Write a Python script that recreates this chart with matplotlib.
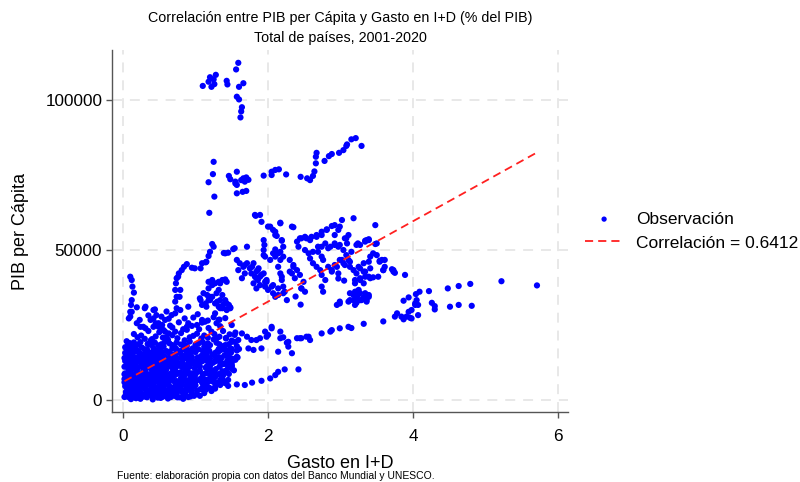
import numpy as np
import matplotlib.pyplot as plt

plt.rcParams['font.family'] = ['Liberation Sans', 'DejaVu Sans']

# grupo de paises muy ricos (arriba)
gasto_top = [1.59, 1.56, 1.28, 1.20, 1.25, 1.18, 1.26, 1.10, 1.22, 1.43, 1.44, 1.66, 1.60, 1.57, 1.60, 1.64, 1.63, 1.62]
pib_top = [112.4, 110.2, 108.4, 107.6, 106.9, 106.1, 105.3, 104.7, 104.4, 106.4, 105.2, 105.6, 104.4, 101.1, 100.2, 97.6, 96.2, 94.2]

# banda 62k-87k
gasto_b80 = [1.25, 1.24, 1.18, 1.26, 1.19, 1.46, 1.48, 1.57, 1.55, 1.63, 1.66, 1.70, 1.73, 1.68, 1.57, 1.65, 1.70,
             1.94, 2.05, 2.10, 2.15, 2.05, 2.25, 2.45, 2.54, 2.58, 2.62, 2.64, 2.66, 2.66, 2.67, 2.78, 2.84, 2.88,
             2.98, 3.04, 3.08, 3.09, 3.15, 3.21, 3.29, 1.57, 1.55]
pib_b80 = [79.4, 75.3, 72.6, 67.8, 62.4, 74.7, 73.6, 76.1, 72.2, 73.3, 73.9, 74.2, 73.4, 72.8, 68.9, 69.4, 69.7,
           74.8, 76.1, 76.7, 76.9, 75.0, 75.2, 74.4, 73.9, 73.3, 74.7, 76.2, 78.9, 81.1, 82.4, 79.7, 81.3, 82.0,
           82.4, 83.3, 84.7, 85.2, 86.9, 87.3, 84.7, 71.7, 72.8]

# zona media izquierda (22k-52k)
gasto_med = [0.10, 0.12, 0.13, 0.15, 0.12, 0.11, 0.10, 0.08, 0.19, 0.31, 0.44,
             0.74, 0.72, 0.74, 0.72, 0.73, 0.74, 0.77, 0.81, 0.84, 0.88, 0.95, 1.07, 1.09, 1.14, 1.20, 1.23, 1.18,
             1.39, 1.45, 1.25, 1.15, 0.99, 0.76, 0.79, 0.78, 0.79,
             0.19, 0.24, 0.31, 0.38, 0.42, 0.45, 0.49, 0.54, 0.56, 0.58, 0.63, 0.68,
             0.88, 0.95, 1.02, 1.09, 1.13,
             1.07, 1.11, 1.18, 1.23, 1.27, 1.32, 1.37, 1.41,
             1.16, 1.20, 1.27, 1.32, 1.37, 1.43, 1.17, 1.25, 1.33, 1.41,
             1.06, 1.34, 1.43, 1.29, 1.34, 1.38, 1.43, 1.48, 1.27, 1.32, 1.29, 1.20, 1.09, 1.15,
             0.30, 0.42, 0.46, 0.53, 0.67, 0.72, 0.49, 0.53, 0.58, 0.63, 0.23, 0.28, 0.42, 0.12, 0.10,
             0.90, 1.09, 0.90, 0.85,
             1.18, 1.23, 1.32, 1.37, 1.41, 1.46, 1.30, 1.23, 1.18, 1.14, 1.34, 1.43, 1.48,
             0.25, 0.35, 0.15, 0.65, 0.77, 0.83, 0.97, 1.03, 0.60, 0.35]
pib_med = [41.1, 40.0, 37.8, 35.8, 33.3, 31.7, 29.4, 27.2, 30.9, 31.1, 30.2,
           30.6, 32.8, 34.4, 36.7, 38.9, 40.6, 42.2, 43.3, 44.4, 45.3, 44.1, 43.9, 45.6, 45.9, 49.4, 52.0, 48.0,
           49.0, 49.1, 51.1, 46.1, 43.9, 41.1, 36.7, 34.4, 30.0,
           25.6, 24.4, 23.9, 26.7, 27.2, 25.6, 24.4, 25.0, 23.3, 26.7, 27.1, 24.2,
           24.4, 24.7, 25.0, 25.8, 26.1,
           33.3, 35.6, 37.2, 38.3, 38.9, 39.4, 40.0, 40.2,
           35.0, 33.3, 32.2, 31.1, 30.6, 30.2, 26.5, 27.6, 26.8, 27.3,
           33.9, 38.9, 39.4, 35.6, 33.3, 31.7, 32.2, 30.6, 28.9, 26.7, 25.6, 34.4, 31.7, 31.1,
           30.6, 30.0, 28.3, 27.8, 28.3, 28.9, 25.6, 23.9, 22.8, 22.2, 26.7, 24.4, 24.4, 29.4, 27.8,
           25.6, 26.7, 31.1, 27.2,
           39.4, 40.0, 36.7, 35.0, 33.3, 31.7, 32.8, 34.4, 33.3, 32.2, 30.6, 30.0, 30.9,
           21.5, 23.0, 22.0, 24.8, 25.9, 23.6, 27.5, 28.6, 29.5, 28.2]

# nube central (1.4-3.9, 30k-62k)
gasto_cen = [1.82, 1.89, 1.91, 2.00, 2.07, 2.10, 2.19, 2.17, 2.33, 1.83, 2.03, 2.17, 2.35, 2.10, 2.12, 2.19,
             1.94, 1.95, 1.71, 1.52, 1.41, 2.10, 2.07, 2.21, 1.94, 1.94, 1.54,
             2.40, 2.46, 2.53, 2.60, 2.67, 2.74, 2.81, 2.88, 2.92, 2.99,
             2.42, 2.51, 2.56, 2.62, 2.69, 2.79, 2.83, 2.92, 2.99, 3.04,
             1.57, 1.61, 1.66, 1.59, 1.68, 1.75, 1.77, 1.82, 1.86, 1.89, 1.96, 2.00, 1.68, 1.64, 1.86, 1.91, 1.96, 1.80, 1.84,
             2.14, 2.17, 2.14, 2.17, 2.19, 2.21, 2.23, 2.14, 2.10,
             2.30, 2.35, 2.40, 2.44, 2.49, 2.46, 2.51, 2.33, 2.37,
             2.58, 2.62, 2.67, 2.72, 2.74, 2.79, 2.88, 2.92, 2.97, 2.74, 2.76, 2.95, 2.99,
             3.48, 3.06, 3.11, 3.09, 3.22, 3.24, 3.34, 3.39, 3.48, 3.50, 3.54, 3.61, 3.59, 3.71, 3.75, 3.89,
             3.02, 3.06, 3.13, 3.18, 3.22, 3.27, 3.32, 3.34, 3.39, 3.41, 3.41, 3.20, 3.27,
             3.13, 3.20, 3.24, 3.18, 3.27, 3.32, 3.39, 3.11, 3.20, 2.99,
             1.71, 1.78, 1.84, 1.89, 1.98, 2.05, 2.07,
             2.44, 2.51, 2.58, 2.67, 2.74, 2.81, 2.97, 3.02, 3.18, 3.08, 2.92, 2.86, 2.92, 2.97, 2.74, 2.69, 2.74,
             2.76, 2.83, 2.88, 2.95, 3.04, 3.11, 3.13, 3.25, 3.32, 3.34, 3.39, 3.41, 3.45, 3.57, 3.73, 3.36, 3.27,
             3.15, 3.08, 2.99,
             1.80, 1.87, 1.94, 1.84, 1.98, 2.07, 2.14, 2.21, 2.26, 2.19, 2.30, 2.35, 2.03, 2.10, 1.96, 2.17, 2.21,
             3.13, 3.18, 3.22, 3.27, 3.36, 3.22, 2.97, 3.05,
             3.20, 3.27, 3.32, 3.25, 3.34, 3.39, 3.22, 3.29, 3.36, 3.45, 3.52,
             3.50, 3.39, 3.34, 3.61, 3.54, 3.59, 3.73, 2.46, 2.38, 2.45]
pib_cen = [61.7, 61.7, 59.4, 57.8, 56.7, 55.0, 53.3, 58.9, 57.8, 61.4, 57.8, 59.1, 57.6, 56.1, 54.7, 53.1,
           53.3, 51.7, 51.1, 50.3, 48.9, 50.2, 48.9, 51.1, 50.0, 48.3, 50.6,
           52.8, 53.9, 53.9, 54.4, 55.0, 56.1, 56.9, 58.0, 58.3, 57.8,
           51.1, 50.0, 48.9, 49.4, 51.1, 52.2, 50.6, 52.2, 51.7, 50.0,
           46.7, 45.6, 44.4, 43.3, 45.0, 43.9, 42.2, 41.1, 40.0, 38.3, 37.8, 36.7, 42.2, 40.6, 43.3, 41.7, 39.4, 38.9, 37.2,
           48.9, 46.7, 44.4, 42.2, 40.0, 37.8, 36.1, 35.0, 34.4,
           46.7, 45.0, 43.3, 41.7, 39.4, 37.2, 36.1, 42.2, 40.6,
           47.2, 45.6, 44.4, 43.3, 41.7, 40.0, 43.3, 45.0, 42.2, 37.8, 36.1, 31.7, 32.8,
           58.3, 53.9, 55.0, 52.2, 51.7, 52.2, 53.1, 53.6, 52.0, 48.3, 46.4, 44.4, 43.3, 43.6, 42.4, 41.7,
           46.7, 45.0, 46.1, 43.3, 42.2, 43.9, 42.8, 41.1, 46.1, 43.9, 40.6, 38.9, 40.0,
           35.6, 36.1, 35.0, 33.3, 33.3, 34.2, 34.4, 32.8, 31.7, 32.2,
           45.6, 44.4, 42.8, 41.1, 39.4, 37.8, 35.6,
           53.9, 54.4, 53.3, 54.4, 55.0, 56.7, 56.7, 60.0, 60.6, 53.9, 55.0, 51.1, 51.7, 51.1, 51.1, 49.4, 47.8,
           46.7, 44.4, 42.8, 44.4, 45.6, 46.7, 44.4, 44.4, 45.6, 42.8, 41.1, 47.8, 48.9, 46.7, 42.8, 53.3, 51.7,
           49.4, 48.3, 46.7,
           45.6, 43.9, 42.2, 40.6, 40.0, 38.3, 37.2, 35.6, 33.3, 41.1, 42.8, 44.4, 46.7, 47.8, 47.8, 49.4, 47.8,
           33.3, 35.0, 36.1, 35.6, 32.8, 32.4, 40.5, 39.8,
           40.0, 40.6, 38.9, 36.7, 35.6, 35.0, 33.9, 33.3, 33.3, 40.9, 41.1,
           52.2, 53.3, 52.8, 46.7, 46.1, 43.3, 43.3, 37.2, 34.5, 31.8]

# rama derecha (gasto alto)
gasto_der = [3.87, 3.94, 4.04, 4.09, 4.22, 4.05, 4.03, 3.98, 3.94, 3.91, 3.98, 4.07, 3.78, 3.75, 3.87,
             4.26, 4.30, 4.30, 4.48, 4.63, 4.51, 4.63, 5.22, 5.71, 4.79, 4.81,
             3.84, 3.96, 4.07, 4.03, 3.59, 3.32, 3.15]
pib_der = [33.1, 34.2, 35.3, 36.1, 36.3, 33.3, 31.7, 30.0, 29.4, 27.8, 27.2, 28.3, 28.9, 27.8, 26.9,
           32.4, 31.3, 30.2, 37.2, 38.0, 31.1, 31.7, 39.6, 38.2, 38.7, 31.4,
           27.8, 27.4, 31.7, 32.2, 26.2, 25.4, 24.0]

# banda baja 15k-25k y diagonal inferior
gasto_baj = [2.74, 2.88, 2.99, 2.40, 2.46, 2.53, 2.58, 2.17, 2.21, 2.26, 2.28, 2.14, 1.96, 2.05, 2.00, 1.89,
             1.91, 1.77, 1.80, 1.73, 1.59, 1.64, 1.54, 1.50, 1.48, 1.57, 1.41, 1.41, 1.41, 1.43,
             1.71, 1.84, 1.98, 2.05, 2.17, 2.28, 2.33, 2.44, 2.56, 2.86, 3.11,
             1.68, 1.78, 1.91, 2.03, 2.10, 2.14, 2.23, 2.42, 1.45, 1.20, 1.27, 1.34, 1.41, 1.45, 1.57]
pib_baj = [22.2, 23.3, 23.9, 20.6, 20.6, 21.1, 20.0, 22.8, 20.9, 19.1, 17.8, 16.1, 22.8, 24.4, 21.7, 20.6,
           17.2, 20.0, 16.7, 17.2, 20.0, 22.2, 21.7, 19.4, 17.2, 14.4, 18.3, 16.7, 12.2, 9.4,
           21.1, 20.0, 21.1, 23.9, 20.6, 19.4, 15.6, 20.6, 21.1, 22.8, 24.4,
           5.0, 5.8, 6.4, 7.2, 8.3, 9.4, 10.2, 10.2, 4.7, 3.9, 4.4, 5.0, 5.6, 6.7, 5.2]

# masa densa de paises de ingreso bajo/medio (filas leidas de abajo hacia arriba)
gasto_masa = [0.05, 0.09, 0.14, 0.18, 0.22, 0.27, 0.33, 0.38, 0.45, 0.52, 0.58, 0.66, 0.71, 0.78, 0.86, 0.93, 1.02, 1.12,
              0.07, 0.12, 0.20, 0.29, 0.37, 0.44, 0.55, 0.63, 0.74, 0.81, 0.95,
              0.06, 0.11, 0.16, 0.21, 0.26, 0.31, 0.36, 0.41, 0.47, 0.53, 0.61, 0.68, 0.75, 0.83, 0.91, 0.98, 1.07, 1.18, 1.27,
              0.03, 0.10, 0.18, 0.27, 0.33, 0.43, 0.50, 0.59, 0.66, 0.73, 0.87, 1.00, 1.15,
              0.04, 0.08, 0.13, 0.19, 0.24, 0.29, 0.35, 0.40, 0.46, 0.51, 0.57, 0.63, 0.70, 0.77, 0.84, 0.90, 0.97, 1.05,
              1.13, 1.21, 1.30, 1.38,
              0.07, 0.16, 0.22, 0.32, 0.38, 0.48, 0.54, 0.60, 0.67, 0.80, 0.93, 1.08, 1.27,
              0.05, 0.10, 0.15, 0.20, 0.25, 0.31, 0.37, 0.43, 0.49, 0.55, 0.62, 0.69, 0.76, 0.82, 0.89, 0.96, 1.03, 1.10,
              1.17, 1.25, 1.33, 1.42, 1.50,
              0.07, 0.12, 0.21, 0.30, 0.36, 0.47, 0.53, 0.60, 0.73, 0.85, 0.99, 1.14, 1.28, 1.45,
              0.04, 0.09, 0.14, 0.19, 0.23, 0.28, 0.34, 0.39, 0.45, 0.51, 0.58, 0.64, 0.71, 0.79, 0.86, 0.94, 1.01, 1.09,
              1.16, 1.24, 1.31, 1.39, 1.47, 1.55,
              0.07, 0.16, 0.26, 0.36, 0.48, 0.60, 0.74, 0.88, 1.05, 1.20, 1.36, 1.52,
              0.05, 0.10, 0.17, 0.22, 0.27, 0.33, 0.39, 0.44, 0.50, 0.57, 0.63, 0.70, 0.77, 0.85, 0.92, 1.00, 1.08, 1.15,
              1.23, 1.32, 1.40, 1.49, 1.57,
              0.08, 0.20, 0.30, 0.46, 0.60, 0.74, 0.90, 1.04, 1.19, 1.35, 1.50,
              0.03, 0.07, 0.12, 0.18, 0.26, 0.34, 0.42, 0.49, 0.56, 0.64, 0.72, 0.80, 0.88, 0.96, 1.04, 1.12, 1.20, 1.29,
              1.37, 1.46, 1.54,
              0.30, 0.45, 0.55, 0.68, 0.80, 0.92, 1.02, 1.12, 1.22, 1.30, 1.38, 1.47, 1.55,
              0.11, 0.24, 0.41, 0.62, 0.83,
              0.04, 0.15, 0.24, 0.40, 0.50, 0.57, 0.70, 0.87,
              0.06, 0.15, 0.22, 0.38, 0.55, 0.62, 0.81, 0.94,
              0.03, 0.13, 0.28, 0.40, 0.52, 0.65, 0.79, 0.92,
              0.06, 0.17, 0.26, 0.42, 0.55, 0.68, 0.83, 0.98,
              0.07, 0.13, 0.30, 0.47, 0.67, 0.81,
              0.05, 0.15, 0.38, 0.62, 0.85, 1.08, 1.33,
              0.04, 0.13, 0.25, 0.34, 0.49, 0.61, 0.69, 0.84, 0.98,
              0.08, 0.19, 0.29, 0.39, 0.56, 0.64, 0.79, 0.95, 1.10,
              0.06, 0.17, 0.27, 0.43, 0.53, 0.66, 0.74, 0.87, 1.01, 1.17, 1.34,
              0.04, 0.11, 0.25, 0.35, 0.45, 0.57, 0.71, 0.84, 0.99, 1.20, 1.38,
              0.08, 0.18, 0.28, 0.40, 0.52, 0.58, 0.72, 0.86, 1.06, 1.22, 1.37, 1.53,
              0.05, 0.16, 0.31, 0.48, 0.61, 0.75, 0.90, 1.04, 1.20, 1.35, 1.50,
              0.03, 0.11, 0.21, 0.32, 0.44, 0.57, 0.66, 0.82, 0.97, 1.13, 1.27, 1.44, 1.58,
              0.09, 0.21, 0.35, 0.53, 0.73, 0.95, 1.11, 1.28, 1.45,
              0.03, 0.14, 0.24, 0.41, 0.54, 0.73, 0.88, 1.12, 1.27, 1.44, 1.60,
              0.05, 0.15, 0.33, 0.52, 0.68, 0.83, 0.99, 1.16, 1.32, 1.57,
              0.10, 0.22, 0.38, 0.53, 0.68, 0.84, 1.00, 1.17, 1.33, 1.50,
              0.20, 0.40, 0.60, 0.75, 0.97, 1.17, 1.26, 1.42,
              0.50, 0.72, 0.88, 1.05, 1.18, 1.34, 1.50,
              0.02, 0.16, 0.30, 0.48, 0.55, 0.75, 0.90, 1.06,
              0.09, 0.19, 0.34, 0.44, 0.64, 0.72, 0.80, 0.94, 1.02, 1.14, 1.22,
              0.02, 0.12, 0.21, 0.32, 0.42, 0.48, 0.60, 0.72, 0.80, 0.88, 1.00, 1.09, 1.17, 1.25,
              0.02, 0.08, 0.18, 0.23, 0.34, 0.46, 0.59, 0.74, 0.87, 1.00, 1.14, 1.30, 1.46,
              0.02, 0.11, 0.25, 0.33, 0.44, 0.56, 0.67, 0.81, 0.92, 1.06, 1.19, 1.33, 1.50,
              0.02, 0.12, 0.19, 0.31, 0.42, 0.55, 0.66, 0.80, 0.91, 1.03, 1.17, 1.32, 1.48,
              0.06, 0.19, 0.36, 0.50, 0.64, 0.79, 0.96, 1.10, 1.30, 1.45,
              0.09, 0.24, 0.44, 0.58, 0.74, 0.92, 1.10, 1.25, 1.42,
              0.02, 0.11, 0.26, 0.36, 0.45, 0.58, 0.68, 0.82, 0.95, 1.11, 1.24, 1.35,
              0.08, 0.18, 0.30, 0.40, 0.50, 0.61, 0.75, 0.90, 1.03, 1.18, 1.35, 1.50]
pib_masa = [1.2, 0.8, 1.5, 0.6, 1.9, 1.1, 0.9, 1.6, 1.3, 0.7, 1.8, 1.0, 1.4, 0.9, 1.7, 1.2, 2.0, 2.3,
            2.3, 2.0, 2.5, 1.9, 2.4, 2.2, 2.6, 2.1, 2.4, 2.7, 2.2,
            3.4, 2.9, 3.8, 3.1, 4.2, 3.5, 2.8, 3.9, 3.3, 4.4, 3.0, 3.7, 4.1, 3.2, 3.9, 4.5, 3.6, 4.2, 3.8,
            4.6, 4.9, 4.4, 4.8, 5.0, 4.5, 4.7, 5.1, 4.3, 4.8, 4.6, 4.9, 5.0,
            5.6, 6.3, 5.1, 6.8, 5.9, 6.5, 5.3, 7.0, 6.1, 5.5, 6.9, 5.8, 6.4, 5.2, 6.7, 6.0, 5.5, 6.8,
            5.9, 6.4, 5.7, 6.6,
            7.4, 7.8, 7.2, 7.6, 7.9, 7.3, 7.7, 7.5, 7.9, 7.4, 7.7, 7.3, 7.6,
            8.4, 9.5, 8.1, 9.2, 8.8, 9.9, 8.3, 9.6, 8.7, 9.3, 8.2, 10.0, 9.0, 8.5, 9.7, 8.9, 9.4, 8.6,
            10.1, 9.2, 8.7, 9.8, 10.4,
            10.6, 10.3, 10.8, 10.4, 10.9, 10.5, 10.7, 10.2, 10.9, 10.4, 10.6, 10.8, 10.3, 11.0,
            11.3, 12.4, 11.8, 11.0, 12.9, 11.6, 12.2, 11.2, 12.7, 11.9, 12.3, 11.4, 13.0, 12.1, 11.5, 12.6, 11.8, 12.9,
            11.3, 12.4, 13.1, 12.0, 12.8, 13.4,
            13.6, 13.9, 13.5, 13.8, 13.7, 14.0, 13.6, 13.9, 13.5, 13.8, 14.1, 13.7,
            14.6, 15.3, 14.2, 15.8, 14.9, 15.5, 14.4, 16.1, 15.0, 14.5, 15.7, 14.8, 15.9, 14.3, 15.4, 16.0, 14.7, 15.6,
            15.1, 16.2, 14.9, 15.8, 16.5,
            16.7, 16.4, 16.9, 16.6, 16.3, 16.8, 16.5, 16.9, 16.4, 16.7, 17.0,
            17.6, 18.4, 17.1, 18.0, 17.5, 18.7, 17.3, 18.2, 17.8, 18.9, 17.4, 18.5, 18.0, 17.2, 18.8, 17.7, 18.3, 19.1,
            17.9, 18.6, 19.4,
            20.4, 21.2, 20.8, 21.6, 22.3, 20.9, 22.1, 21.5, 22.8, 20.7, 23.0, 21.9, 22.5,
            0.3, 0.4, 0.2, 0.5, 0.4,
            2.7, 3.0, 2.6, 3.1, 2.9, 2.6, 3.0, 2.8,
            5.3, 5.5, 5.2, 5.4, 5.0, 5.5, 5.3, 5.2,
            8.9, 8.6, 9.1, 8.8, 9.0, 8.7, 9.2, 8.9,
            11.9, 12.2, 11.7, 12.0, 11.6, 12.3, 11.8, 12.1,
            15.0, 14.8, 15.2, 14.7, 15.2, 15.0,
            19.6, 19.2, 19.8, 20.1, 19.9, 20.5, 21.1,
            1.8, 1.6, 1.7, 1.9, 1.5, 1.7, 1.9, 1.6, 1.4,
            4.1, 3.8, 4.0, 4.2, 3.9, 4.1, 3.8, 4.0, 4.3,
            6.6, 6.4, 6.8, 6.5, 6.7, 6.9, 6.3, 6.6, 6.4, 6.8, 6.5,
            8.0, 8.2, 7.9, 8.1, 8.3, 8.0, 8.2, 7.9, 8.1, 8.4, 8.2,
            9.7, 9.9, 9.6, 9.8, 9.6, 9.9, 9.7, 9.5, 9.8, 9.9, 9.6, 9.9,
            11.5, 11.3, 11.4, 11.6, 11.2, 11.5, 11.3, 11.6, 11.4, 11.7, 11.5,
            13.0, 13.2, 12.9, 13.1, 13.3, 12.8, 13.1, 13.2, 13.0, 13.3, 12.9, 13.2, 14.2,
            14.3, 14.1, 14.5, 14.2, 14.4, 14.3, 14.5, 14.2, 14.6,
            15.7, 15.9, 15.6, 15.8, 15.9, 15.6, 15.8, 15.9, 15.7, 16.0, 17.0,
            17.0, 17.3, 16.9, 17.1, 17.2, 16.9, 17.2, 17.4, 17.0, 18.0,
            18.3, 18.6, 18.4, 18.6, 18.3, 18.7, 18.4, 18.9, 18.6, 19.8,
            20.9, 20.3, 21.0, 20.6, 21.4, 20.8, 22.0, 20.5,
            22.6, 22.8, 23.4, 23.6, 24.0, 24.6, 25.0,
            1.0, 0.9, 1.2, 0.8, 1.1, 0.9, 1.0, 1.4,
            3.3, 3.5, 3.2, 3.4, 3.3, 3.5, 3.6, 3.3, 3.1, 3.4, 3.0,
            5.9, 6.0, 5.8, 6.1, 5.9, 6.2, 6.0, 5.8, 6.1, 5.9, 6.2, 5.8, 6.1, 6.0,
            8.6, 8.8, 8.5, 8.7, 8.6, 8.9, 8.5, 8.7, 8.8, 8.6, 8.9, 8.5, 8.7,
            11.1, 10.9, 11.2, 11.0, 11.1, 10.9, 11.2, 11.0, 11.1, 11.2, 10.9, 11.1, 11.3,
            14.0, 14.2, 13.9, 14.1, 14.0, 14.2, 13.9, 14.1, 14.0, 14.2, 14.1, 14.3, 14.0,
            16.0, 16.2, 15.9, 16.1, 16.0, 16.3, 16.1, 16.4, 16.2, 16.5,
            19.0, 19.3, 19.1, 19.4, 19.2, 19.5, 19.3, 20.2, 20.7,
            7.0, 7.1, 6.9, 7.2, 7.0, 7.1, 6.9, 7.2, 7.0, 7.1, 7.2, 6.9,
            12.6, 12.4, 12.5, 12.7, 12.4, 12.6, 12.5, 12.4, 12.7, 12.5, 12.6, 12.4]

# recta de ajuste
intercepto = 6000
pendiente = 13400
etiqueta_corr = "Correlación = 0.6412"

xticks = [0, 2, 4, 6]
yticks = [0, 50000, 100000]
ytick_labels = ["0", "50000", "100000"]

titulo = "Correlación entre PIB per Cápita y Gasto en I+D (% del PIB)"
subtitulo = "Total de países, 2001-2020"
fuente = "Fuente: elaboración propia con datos del Banco Mundial y UNESCO."

gasto = np.concatenate([gasto_top, gasto_b80, gasto_med, gasto_cen, gasto_der, gasto_baj, gasto_masa])
pib = np.concatenate([pib_top, pib_b80, pib_med, pib_cen, pib_der, pib_baj, pib_masa]) * 1000

fig = plt.figure(figsize=(8, 4.82), dpi=100)
ax = fig.add_axes([0.14, 0.1452, 0.57, 0.751])

ax.scatter(gasto, pib, s=20, c='#0000ff', edgecolors='none', label='Observación', zorder=3)
xl = np.array([gasto.min(), gasto.max()])
ax.plot(xl, intercepto + pendiente * xl, color='#ff2020', lw=1.3, ls=(0, (4.5, 2.8)),
        label=etiqueta_corr, zorder=4)

ax.set_xlim(-0.152, 6.138)
ax.set_ylim(-4000, 116667)
ax.set_xticks(xticks)
ax.set_yticks(yticks)
ax.set_yticklabels(ytick_labels)
ax.grid(True, color='#e6e6e6', lw=1.3, ls=(0, (5.5, 4.4)), zorder=0)

for s in ['top', 'right']:
    ax.spines[s].set_visible(False)
for s in ['left', 'bottom']:
    ax.spines[s].set_color('#555555')
    ax.spines[s].set_linewidth(1.0)
ax.tick_params(length=4.5, width=1, color='#555555', labelsize=12.3)
ax.tick_params(axis='x', pad=8)
ax.tick_params(axis='y', pad=2.5)

ax.set_xlabel('Gasto en I+D', fontsize=13)
ax.set_ylabel('PIB per Cápita', fontsize=13)
ax.xaxis.set_label_coords(0.5, -0.12)
ax.yaxis.set_label_coords(-0.181, 0.5)

ax.legend(loc='center left', bbox_to_anchor=(1.003, 0.5), frameon=False, fontsize=12.5,
          handlelength=2.2, handletextpad=0.75, scatterpoints=1, markerscale=0.85)

fig.text(0.425, 1 - 18 / 482, titulo, ha='center', va='center', fontsize=10.3)
fig.text(0.425, 1 - 38 / 482, subtitulo, ha='center', va='center', fontsize=10.3)
fig.text(117 / 800, 1 - 476 / 482, fuente, ha='left', va='center', fontsize=7.45)

fig.savefig('out.png', dpi=100, facecolor='white')
